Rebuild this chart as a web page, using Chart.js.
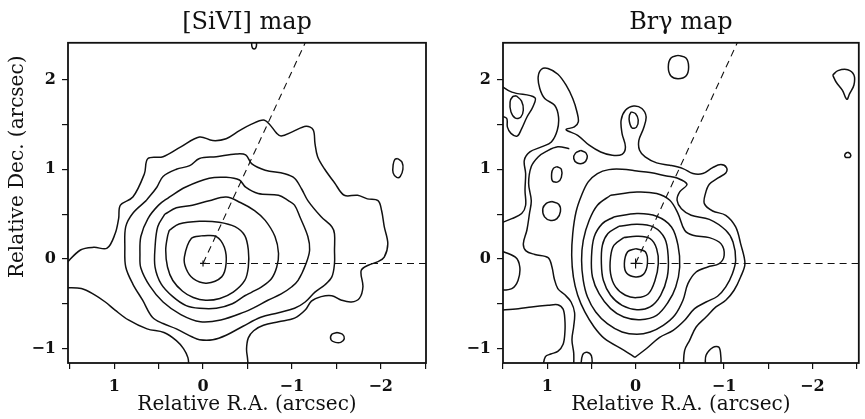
<!DOCTYPE html>
<html>
<head>
<meta charset="utf-8">
<script src="https://cdn.jsdelivr.net/npm/chart.js@4.4.1/dist/chart.umd.min.js"></script>
<style>
  body { margin: 0; background: #fff; }
  #wrap { position: relative; width: 865px; height: 419px; }
  canvas { position: absolute; top: 0; }
</style>
</head>
<body>
<div id="wrap">
  <canvas id="siviMap" width="440" height="419" style="left:0"></canvas>
  <canvas id="brgMap" width="425" height="419" style="left:440px"></canvas>
</div>
<script>
// axis ticks (arcsec)
const raTicks = [1, 0, -1, -2];
const decTicks = [2, 1, 0, -1];

// nucleus and the two reference directions (RA, Dec)
const nucleus = [0, -0.05];
const eastWestCut = [[0, -0.05], [-2.6, -0.05]];
const axisCut = [[0, -0.05], [-1.15, 2.41]];

// ---------- [SiVI] contours ----------
const siviLevel1 = [[0.00,0.26],[-0.15,0.25],[-0.24,0.13],[-0.26,-0.05],[-0.21,-0.20],[-0.04,-0.27],[0.11,-0.22],[0.19,-0.11],[0.21,0.02],[0.13,0.23],[0.00,0.26]];
const siviLevel2 = [[0.38,0.32],[0.27,0.39],[0.04,0.42],[-0.18,0.41],[-0.36,0.36],[-0.47,0.26],[-0.51,0.10],[-0.51,-0.09],[-0.47,-0.24],[-0.34,-0.37],[-0.19,-0.44],[-0.03,-0.46],[0.11,-0.43],[0.23,-0.36],[0.34,-0.24],[0.40,-0.09],[0.42,0.10],[0.40,0.25],[0.38,0.32]];
const siviLevel3 = [[0.43,0.50],[0.30,0.57],[0.12,0.60],[-0.07,0.65],[-0.26,0.69],[-0.42,0.63],[-0.58,0.54],[-0.70,0.43],[-0.81,0.25],[-0.85,0.06],[-0.83,-0.09],[-0.77,-0.22],[-0.66,-0.31],[-0.55,-0.37],[-0.47,-0.41],[-0.33,-0.50],[-0.15,-0.55],[0.04,-0.55],[0.19,-0.52],[0.34,-0.42],[0.47,-0.28],[0.54,-0.09],[0.54,0.13],[0.51,0.36],[0.43,0.50]];
const siviLevel4 = [[0.38,0.69],[0.20,0.80],[-0.07,0.90],[-0.26,0.91],[-0.41,0.88],[-0.48,0.80],[-0.62,0.73],[-0.85,0.71],[-0.96,0.65],[-1.03,0.60],[-1.09,0.47],[-1.18,0.25],[-1.20,0.10],[-1.16,-0.05],[-1.07,-0.24],[-1.00,-0.31],[-0.88,-0.39],[-0.73,-0.46],[-0.58,-0.54],[-0.47,-0.59],[-0.20,-0.68],[0.03,-0.70],[0.25,-0.62],[0.45,-0.48],[0.60,-0.30],[0.70,-0.10],[0.71,0.05],[0.70,0.25],[0.62,0.45],[0.50,0.60],[0.38,0.69]];
const siviLevel5 = [[0.64,0.65],[0.52,0.80],[0.45,0.92],[0.30,1.00],[0.15,1.04],[0.04,1.12],[-0.15,1.14],[-0.37,1.17],[-0.48,1.16],[-0.55,1.06],[-0.70,0.99],[-0.92,0.95],[-1.03,0.90],[-1.11,0.78],[-1.18,0.65],[-1.33,0.47],[-1.45,0.36],[-1.48,0.28],[-1.48,0.10],[-1.48,-0.05],[-1.45,-0.20],[-1.37,-0.29],[-1.26,-0.37],[-1.15,-0.48],[-1.03,-0.55],[-0.85,-0.60],[-0.65,-0.65],[-0.45,-0.75],[-0.26,-0.85],[-0.11,-0.90],[0.04,-0.90],[0.12,-0.87],[0.30,-0.78],[0.45,-0.72],[0.57,-0.65],[0.68,-0.46],[0.79,-0.28],[0.87,-0.09],[0.88,0.13],[0.87,0.36],[0.79,0.51],[0.64,0.65]];
const siviOuter = [[1.55,-0.06],[1.38,0.10],[1.23,0.13],[1.08,0.12],[0.99,0.28],[0.95,0.45],[0.93,0.60],[0.79,0.69],[0.66,0.95],[0.62,1.12],[0.45,1.14],[0.25,1.25],[0.04,1.36],[-0.11,1.32],[-0.26,1.34],[-0.41,1.43],[-0.54,1.50],[-0.68,1.55],[-0.75,1.50],[-0.83,1.40],[-0.88,1.37],[-1.01,1.42],[-1.16,1.48],[-1.24,1.44],[-1.26,1.29],[-1.29,1.14],[-1.37,1.00],[-1.48,0.85],[-1.59,0.71],[-1.74,0.71],[-1.85,0.67],[-1.97,0.65],[-2.01,0.54],[-2.04,0.36],[-2.08,0.17],[-2.04,0.02],[-1.97,-0.03],[-1.86,-0.07],[-1.78,-0.13],[-1.80,-0.31],[-1.76,-0.44],[-1.67,-0.48],[-1.56,-0.46],[-1.45,-0.41],[-1.33,-0.42],[-1.22,-0.47],[-1.15,-0.57],[-1.03,-0.66],[-0.85,-0.70],[-0.68,-0.74],[-0.57,-0.80],[-0.51,-0.88],[-0.49,-1.00],[-0.50,-1.10],[-0.51,-1.20]];
const siviSouthEast = [[1.55,-0.32],[1.37,-0.33],[1.22,-0.40],[1.10,-0.48],[0.99,-0.57],[0.84,-0.68],[0.63,-0.78],[0.44,-0.82],[0.30,-0.91],[0.22,-1.00],[0.17,-1.10],[0.16,-1.20]];
const siviNorthSpot = [[-0.55,2.45],[-0.55,2.37],[-0.575,2.34],[-0.60,2.37],[-0.60,2.45]];
const siviWestSpot = [[-2.19,1.12],[-2.24,1.08],[-2.25,1.00],[-2.22,0.92],[-2.18,0.91],[-2.14,0.96],[-2.14,1.05],[-2.16,1.11],[-2.19,1.12]];
const siviSouthSpot = [[-1.51,-0.82],[-1.57,-0.84],[-1.59,-0.89],[-1.55,-0.93],[-1.49,-0.93],[-1.44,-0.90],[-1.45,-0.84],[-1.51,-0.82]];

// ---------- Br gamma contours ----------
const brgRing1 = [[0,0.115],[-0.11,0.08],[-0.134,-0.05],[-0.09,-0.17],[0,-0.20],[0.10,-0.16],[0.127,-0.05],[0.09,0.08],[0,0.115]];
const brgRing2 = [[0.134,0.238],[-0.015,0.253],[-0.164,0.227],[-0.238,0.115],[-0.257,-0.052],[-0.22,-0.238],[-0.145,-0.387],[-0.015,-0.431],[0.115,-0.405],[0.227,-0.312],[0.283,-0.164],[0.283,0.022],[0.246,0.152],[0.134,0.238]];
const brgRing3 = [[0.19,0.364],[-0.015,0.387],[-0.201,0.357],[-0.331,0.227],[-0.369,0.022],[-0.358,-0.201],[-0.283,-0.405],[-0.164,-0.535],[-0.015,-0.565],[0.153,-0.517],[0.283,-0.405],[0.365,-0.238],[0.387,-0.052],[0.376,0.152],[0.313,0.283],[0.19,0.364]];
const brgRing4 = [[0.246,0.468],[-0.015,0.506],[-0.238,0.476],[-0.406,0.357],[-0.48,0.152],[-0.499,-0.089],[-0.454,-0.312],[-0.369,-0.48],[-0.238,-0.628],[-0.052,-0.677],[0.134,-0.647],[0.283,-0.554],[0.413,-0.387],[0.488,-0.201],[0.499,0.022],[0.469,0.245],[0.376,0.394],[0.246,0.468]];
const brgRing5 = [[0.283,0.71],[-0.015,0.747],[-0.238,0.729],[-0.387,0.654],[-0.48,0.506],[-0.555,0.32],[-0.648,0.264],[-0.834,0.238],[-0.965,0.171],[-1.002,0.041],[-0.946,-0.052],[-0.816,-0.089],[-0.685,-0.145],[-0.592,-0.275],[-0.536,-0.461],[-0.443,-0.628],[-0.313,-0.74],[-0.164,-0.814],[-0.015,-0.84],[0.153,-0.814],[0.32,-0.721],[0.451,-0.591],[0.544,-0.424],[0.592,-0.238],[0.611,-0.015],[0.592,0.208],[0.525,0.431],[0.432,0.599],[0.283,0.71]];
const brgRing6 = [[0.007,-1.097],[-0.127,-0.996],[-0.272,-0.874],[-0.425,-0.796],[-0.555,-0.684],[-0.667,-0.554],[-0.797,-0.48],[-0.927,-0.416],[-1.02,-0.312],[-1.095,-0.164],[-1.132,-0.015],[-1.102,0.19],[-1.02,0.32],[-0.834,0.442],[-0.629,0.487],[-0.518,0.561],[-0.469,0.654],[-0.499,0.747],[-0.581,0.833],[-0.469,0.903],[-0.35,0.926],[-0.164,0.963],[-0.015,0.981],[0.153,1.0],[0.302,0.996],[0.432,0.952],[0.536,0.859],[0.611,0.71],[0.674,0.524],[0.711,0.283],[0.723,0.041],[0.704,-0.201],[0.655,-0.405],[0.574,-0.591],[0.469,-0.758],[0.354,-0.885],[0.13,-1.019],[0.007,-1.097]];
const brgOuter = [[1.55,0.39],[1.40,0.45],[1.289,0.506],[1.244,0.599],[1.251,0.766],[1.244,0.952],[1.259,1.10],[1.196,1.193],[1.065,1.249],[0.953,1.305],[0.886,1.435],[0.872,1.584],[0.916,1.714],[1.028,1.788],[1.084,1.90],[1.102,2.03],[1.065,2.115],[0.991,2.123],[0.879,2.059],[0.786,1.937],[0.711,1.788],[0.663,1.639],[0.648,1.528],[0.693,1.472],[0.786,1.442],[0.655,1.379],[0.525,1.268],[0.395,1.193],[0.264,1.156],[0.153,1.167],[0.115,1.249],[0.153,1.398],[0.164,1.546],[0.115,1.658],[0.022,1.706],[-0.071,1.677],[-0.119,1.584],[-0.089,1.454],[-0.037,1.323],[-0.045,1.212],[-0.108,1.138],[-0.238,1.071],[-0.387,1.045],[-0.536,1.007],[-0.648,0.952],[-0.76,0.952],[-0.872,1.019],[-0.965,1.052],[-1.028,1.019],[-1.02,0.959],[-0.939,0.907],[-0.834,0.833],[-0.79,0.729],[-0.778,0.617],[-0.872,0.535],[-1.02,0.487],[-1.132,0.357],[-1.188,0.171],[-1.237,-0.052],[-1.188,-0.201],[-1.114,-0.349],[-1.02,-0.461],[-0.909,-0.535],[-0.797,-0.647],[-0.685,-0.758],[-0.611,-0.907],[-0.555,-1.019],[-0.54,-1.20]];
const brgFingerSpot = [[0.05,1.64],[0.00,1.62],[-0.03,1.55],[-0.01,1.47],[0.04,1.46],[0.07,1.53],[0.07,1.60],[0.05,1.64]];
const brgEastBand = [[0.75,1.23],[0.88,1.25],[1.01,1.20],[1.10,1.14],[1.18,1.03],[1.21,0.84],[1.18,0.65],[1.20,0.51],[1.23,0.32],[1.27,0.17],[1.24,0.09],[1.14,0.05],[0.99,0.015],[0.946,-0.089],[0.92,-0.22],[0.88,-0.33],[0.80,-0.40],[0.73,-0.48],[0.69,-0.60],[0.70,-0.75],[0.72,-0.90],[0.70,-1.05],[0.70,-1.20]];
const brgSouthEastBand = [[1.55,-0.572],[1.326,-0.554],[1.177,-0.535],[0.991,-0.517],[0.88,-0.51],[0.82,-0.56],[0.80,-0.68],[0.80,-0.82],[0.82,-0.95],[0.88,-1.03],[0.96,-1.06],[1.02,-1.09],[1.05,-1.20]];
const brgEastLobe = [[1.55,0.10],[1.36,0.02],[1.31,-0.09],[1.33,-0.24],[1.40,-0.33],[1.55,-0.35]];
const brgNorthEastLobe = [[1.55,1.95],[1.40,1.86],[1.14,1.80],[1.16,1.70],[1.23,1.58],[1.29,1.45],[1.34,1.37],[1.41,1.40],[1.45,1.47],[1.46,1.57],[1.55,1.60]];
const brgNorthEastSpot = [[1.35,1.82],[1.29,1.76],[1.27,1.66],[1.30,1.58],[1.36,1.57],[1.41,1.64],[1.42,1.75],[1.39,1.81],[1.35,1.82]];
const brgSpotA = [[0.62,1.21],[0.56,1.18],[0.55,1.12],[0.59,1.07],[0.66,1.07],[0.70,1.12],[0.68,1.18],[0.62,1.21]];
const brgSpotB = [[0.89,1.03],[0.84,1.00],[0.84,0.91],[0.88,0.86],[0.94,0.87],[0.95,0.95],[0.93,1.01],[0.89,1.03]];
const brgSpotC = [[0.95,0.64],[0.87,0.61],[0.85,0.53],[0.89,0.45],[0.96,0.43],[1.03,0.47],[1.05,0.56],[1.01,0.62],[0.95,0.64]];
const brgNorthSpot = [[-0.48,2.27],[-0.57,2.24],[-0.60,2.14],[-0.57,2.04],[-0.48,2.01],[-0.40,2.04],[-0.37,2.14],[-0.40,2.24],[-0.48,2.27]];
const brgWestDrop = [[-2.23,2.05],[-2.29,2.10],[-2.40,2.11],[-2.47,2.05],[-2.47,1.94],[-2.42,1.84],[-2.39,1.78],[-2.34,1.88],[-2.27,1.97],[-2.23,2.05]];
const brgWestDot = [[-2.40,1.19],[-2.43,1.17],[-2.43,1.14],[-2.40,1.13],[-2.37,1.14],[-2.37,1.17],[-2.40,1.19]];
const brgSouthArch = [[0.62,-1.20],[0.60,-1.07],[0.55,-1.04],[0.50,-1.08],[0.49,-1.20]];
const brgSouthWestArch = [[-0.79,-1.20],[-0.797,-1.074],[-0.876,-0.985],[-0.943,-0.985],[-0.965,-1.097],[-0.965,-1.20]];

const INK = "#111111";
const SERIF = "'DejaVu Serif', 'Liberation Serif', serif";

function contour(points) {
  return {
    data: points.map(([x, y]) => ({ x, y })),
    showLine: true,
    pointRadius: 0,
    borderColor: INK,
    borderWidth: 1.5,
    tension: 0.35,
    fill: false,
  };
}

function dashed(points) {
  return {
    data: points.map(([x, y]) => ({ x, y })),
    showLine: true,
    pointRadius: 0,
    borderColor: INK,
    borderWidth: 1.1,
    borderDash: [7, 5],
    tension: 0,
    fill: false,
  };
}

function crossMark(p, r) {
  return {
    data: [{ x: p[0], y: p[1] }],
    pointStyle: "cross",
    pointRadius: r,
    borderColor: INK,
    borderWidth: 1.2,
    showLine: false,
  };
}

function fmt(v) {
  if (Math.abs(v - Math.round(v)) > 1e-6) return "";
  const n = Math.round(v);
  return n < 0 ? "\u2212" + Math.abs(n) : String(n);
}

// frame round the plot area
const framePlugin = {
  id: "frame",
  afterDatasetsDraw(chart) {
    const { ctx, chartArea: a } = chart;
    ctx.save();
    ctx.strokeStyle = INK;
    ctx.lineWidth = 1.8;
    ctx.strokeRect(a.left, a.top, a.right - a.left, a.bottom - a.top);
    ctx.restore();
  },
};

// vertical axis title placed like the original (above centre)
const sideTitlePlugin = {
  id: "sideTitle",
  afterDraw(chart, args, opts) {
    if (!opts || !opts.text) return;
    const { ctx, chartArea } = chart;
    ctx.save();
    ctx.translate(opts.x, chartArea.top + opts.offset);
    ctx.rotate(-Math.PI / 2);
    ctx.font = opts.font;
    ctx.fillStyle = INK;
    ctx.textAlign = "center";
    ctx.textBaseline = "middle";
    ctx.fillText(opts.text, 0, 0);
    ctx.restore();
  },
};

function makeMap(canvasId, opt) {
  return new Chart(document.getElementById(canvasId), {
    type: "scatter",
    data: { datasets: opt.datasets },
    options: {
      responsive: false,
      animation: false,
      devicePixelRatio: 1,
      layout: { padding: { left: 0, right: opt.padRight, top: 0, bottom: 0 } },
      plugins: {
        legend: { display: false },
        tooltip: { enabled: false },
        title: {
          display: true,
          text: opt.title,
          fullSize: false,
          color: INK,
          font: { family: SERIF, size: 24, weight: "normal", lineHeight: 1.2 },
          padding: { top: 8, bottom: 6 },
        },
        sideTitle: opt.sideTitle || {},
      },
      scales: {
        x: {
          type: "linear",
          reverse: true,
          min: opt.xMin,
          max: opt.xMax,
          afterFit: (s) => { s.height = 56; },
          border: { display: false },
          grid: { drawOnChartArea: false, drawTicks: true, tickLength: 6, color: INK, lineWidth: 1.2 },
          ticks: {
            stepSize: 0.5,
            includeBounds: false,
            autoSkip: false,
            maxRotation: 0,
            padding: 8,
            color: INK,
            font: { family: SERIF, size: 16, weight: "bold" },
            callback: (v) => (raTicks.includes(Math.round(v)) ? fmt(v) : ""),
          },
          title: {
            display: true,
            text: "Relative R.A. (arcsec)",
            color: INK,
            font: { family: SERIF, size: 20, lineHeight: 1.2 },
            padding: { top: 0, bottom: 2 },
          },
        },
        y: {
          type: "linear",
          min: -1.16,
          max: 2.41,
          afterFit: (s) => { s.width = opt.yWidth; },
          border: { display: false },
          grid: { drawOnChartArea: false, drawTicks: true, tickLength: 6, color: INK, lineWidth: 1.2 },
          ticks: {
            stepSize: 0.5,
            includeBounds: false,
            autoSkip: false,
            padding: 6,
            color: INK,
            font: { family: SERIF, size: 16, weight: "bold" },
            callback: (v) => (decTicks.includes(Math.round(v)) ? fmt(v) : ""),
          },
        },
      },
    },
    plugins: [framePlugin, sideTitlePlugin],
  });
}

makeMap("siviMap", {
  title: "[SiVI] map",
  xMin: -2.51,
  xMax: 1.52,
  yWidth: 68,
  padRight: 14,
  sideTitle: { text: "Relative Dec. (arcsec)", x: 18, offset: 124, font: "20px " + SERIF },
  datasets: [
    siviLevel1, siviLevel2, siviLevel3, siviLevel4, siviLevel5,
    siviOuter, siviSouthEast, siviNorthSpot, siviWestSpot, siviSouthSpot,
  ].map(contour).concat([dashed(eastWestCut), dashed(axisCut), crossMark(nucleus, 3)]),
});

makeMap("brgMap", {
  title: "Br\u03b3 map",
  xMin: -2.525,
  xMax: 1.50,
  yWidth: 63,
  padRight: 0,
  datasets: [
    brgRing1, brgRing2, brgRing3, brgRing4, brgRing5, brgRing6, brgOuter,
    brgFingerSpot, brgEastBand, brgSouthEastBand, brgEastLobe, brgNorthEastLobe,
    brgNorthEastSpot, brgSpotA, brgSpotB, brgSpotC, brgNorthSpot, brgWestDrop,
    brgWestDot, brgSouthArch, brgSouthWestArch,
  ].map(contour).concat([dashed(eastWestCut), dashed(axisCut), crossMark(nucleus, 5)]),
});
</script>
</body>
</html>
